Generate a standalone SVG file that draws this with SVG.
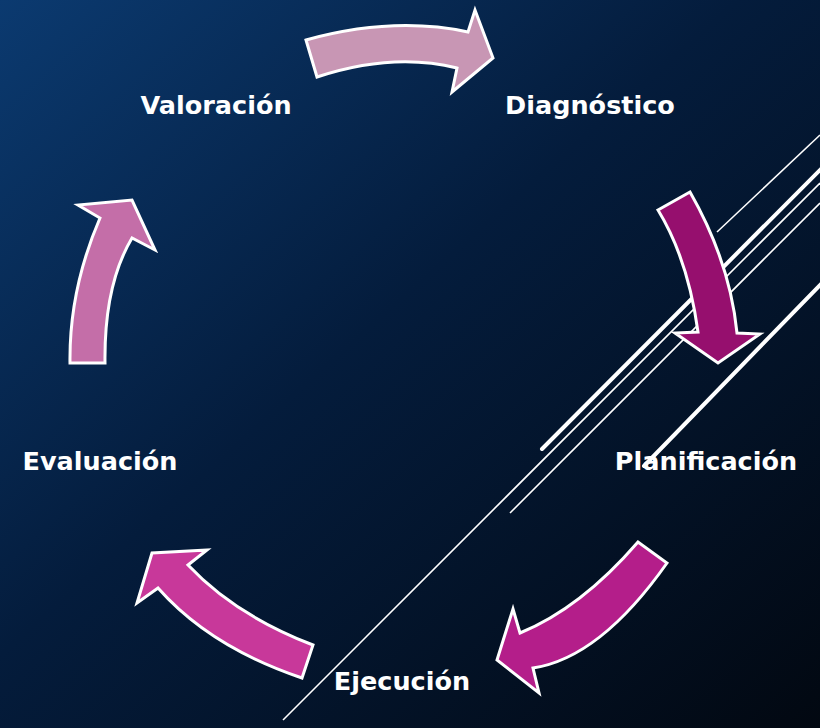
<svg xmlns="http://www.w3.org/2000/svg" width="820" height="728" viewBox="0 0 820 728">
<defs>
<linearGradient id="bg" x1="0" y1="0" x2="1" y2="1">
<stop offset="0" stop-color="#0b3a70"/>
<stop offset="0.45" stop-color="#041c3c"/>
<stop offset="1" stop-color="#020811"/>
</linearGradient>
<style>
.lbl{font-family:"DejaVu Sans","Liberation Sans",sans-serif;font-weight:bold;font-size:25.5px;fill:#ffffff;text-anchor:middle}
.arr{stroke:#ffffff;stroke-width:3;stroke-linejoin:miter}
.thin{stroke:#ffffff;stroke-width:1.6;fill:none}
.thick{stroke:#ffffff;stroke-width:4;fill:none;stroke-linecap:round}
</style>
</defs>
<rect x="0" y="0" width="820" height="728" fill="url(#bg)"/>
<g id="decor-lines">
<line class="thin" x1="820" y1="135" x2="717" y2="232"/>
<line class="thick" x1="822" y1="168" x2="542" y2="449"/>
<line class="thin" x1="820" y1="183" x2="283" y2="720"/>
<line class="thin" x1="820" y1="203" x2="510" y2="513"/>
<line class="thick" x1="822" y1="283" x2="644" y2="466"/>
</g>
<g id="connectors">
<path class="arr" fill="#c896b4" d="M306,40 Q393,16 468,32 L475,10 L493,58 L452,92 L457,68 Q393,52 317,77 Z"/>
<path class="arr" fill="#960f6e" d="M658,210 Q688,259 698,332 L675,333 L718,363 L760,334 L737,333 Q730,262 690,192 Z"/>
<path class="arr" fill="#b41e8a" d="M638,542 Q581,608 520,633 L513,609 L497,660 L539,693 L533,668 Q600,658 667,563 Z"/>
<path class="arr" fill="#c8389a" d="M188,565 L207,550 L152,553 L137,603 L158,588 Q210,647 302,678 L313,645 Q235,615 188,565 Z"/>
<path class="arr" fill="#c46ea8" d="M70,363 Q69,290 100,218 L78,205 L132,200 L155,250 L132,238 Q104,285 105,363 Z"/>
</g>
<g id="valoracion"><text class="lbl" x="216" y="114">Valoración</text></g>
<g id="diagnostico"><text class="lbl" x="590" y="114">Diagnóstico</text></g>
<g id="planificacion"><text class="lbl" x="706" y="470">Planificación</text></g>
<g id="evaluacion"><text class="lbl" x="100" y="470">Evaluación</text></g>
<g id="ejecucion"><text class="lbl" x="402" y="690">Ejecución</text></g>
</svg>
